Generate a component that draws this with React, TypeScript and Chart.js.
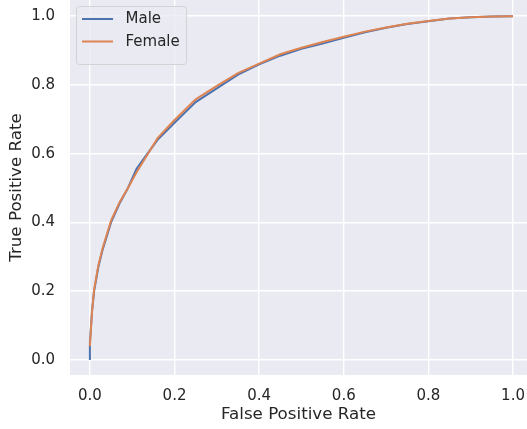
import React, { useEffect, useRef } from "react";
import { Chart, registerables } from "chart.js";

Chart.register(...registerables);

const maleFpr = [0, 0, 0.005, 0.01, 0.02, 0.03, 0.05, 0.07, 0.09, 0.11, 0.13, 0.16, 0.2, 0.25, 0.3, 0.35, 0.4, 0.45, 0.5, 0.55, 0.6, 0.65, 0.7, 0.75, 0.8, 0.85, 0.9, 0.95, 1.0];
const maleTpr = [0, 0.05, 0.14, 0.2, 0.27, 0.32, 0.4, 0.455, 0.5, 0.555, 0.59, 0.64, 0.69, 0.75, 0.79, 0.83, 0.86, 0.885, 0.905, 0.92, 0.937, 0.953, 0.966, 0.977, 0.985, 0.993, 0.997, 0.999, 1.0];
const femaleFpr = [0, 0.005, 0.01, 0.02, 0.03, 0.05, 0.07, 0.09, 0.11, 0.13, 0.16, 0.2, 0.25, 0.3, 0.35, 0.4, 0.45, 0.5, 0.55, 0.6, 0.65, 0.7, 0.75, 0.8, 0.85, 0.9, 0.95, 1.0];
const femaleTpr = [0.04, 0.14, 0.205, 0.275, 0.325, 0.405, 0.458, 0.5, 0.545, 0.585, 0.645, 0.698, 0.758, 0.797, 0.834, 0.862, 0.889, 0.908, 0.925, 0.94, 0.955, 0.967, 0.978, 0.986, 0.993, 0.997, 0.999, 1.0];
const tickValues = [0, 0.2, 0.4, 0.6, 0.8, 1.0];
const seriesNames = ["Male", "Female"];
const seriesColors = ["#4C72B0", "#DD8452"];

const FONT = "'DejaVu Sans', sans-serif";
const TEXT = "#262626";

const bgPlugin = {
  id: "bg",
  beforeDraw(chart: any) {
    const { ctx, chartArea } = chart;
    ctx.save();
    ctx.fillStyle = "#EAEAF2";
    ctx.fillRect(chartArea.left, chartArea.top, chartArea.right - chartArea.left, chartArea.bottom - chartArea.top);
    ctx.restore();
  },
};

const legendPlugin = {
  id: "customLegend",
  afterDraw(chart: any) {
    const { ctx } = chart;
    ctx.save();
    const x = 76.5, y = 6.5, w = 110, h = 58, r = 3;
    ctx.beginPath();
    ctx.moveTo(x + r, y);
    ctx.lineTo(x + w - r, y);
    ctx.arcTo(x + w, y, x + w, y + r, r);
    ctx.lineTo(x + w, y + h - r);
    ctx.arcTo(x + w, y + h, x + w - r, y + h, r);
    ctx.lineTo(x + r, y + h);
    ctx.arcTo(x, y + h, x, y + h - r, r);
    ctx.lineTo(x, y + r);
    ctx.arcTo(x, y, x + r, y, r);
    ctx.closePath();
    ctx.fillStyle = "rgba(234,234,242,0.8)";
    ctx.fill();
    ctx.strokeStyle = "rgba(204,204,204,0.8)";
    ctx.lineWidth = 1;
    ctx.stroke();
    const rows = [19, 41.5];
    seriesNames.forEach((name, i) => {
      ctx.beginPath();
      ctx.strokeStyle = seriesColors[i];
      ctx.lineWidth = 2;
      ctx.moveTo(82, rows[i]);
      ctx.lineTo(113, rows[i]);
      ctx.stroke();
      ctx.fillStyle = TEXT;
      ctx.font = `15px ${FONT}`;
      ctx.textBaseline = "middle";
      ctx.textAlign = "left";
      ctx.fillText(name, 125.5, rows[i] + 0.5);
    });
    ctx.restore();
  },
};

export default function App() {
  const ref = useRef<HTMLCanvasElement>(null);
  useEffect(() => {
    const canvas = ref.current;
    if (!canvas) return;
    const chart = new Chart(canvas, {
      type: "scatter",
      data: {
        datasets: [
          {
            label: seriesNames[0],
            data: maleFpr.map((v, i) => ({ x: v, y: maleTpr[i] })),
            borderColor: seriesColors[0],
            backgroundColor: seriesColors[0],
            showLine: true,
            borderWidth: 2,
            pointRadius: 0,
            tension: 0,
            order: 1,
          },
          {
            label: seriesNames[1],
            data: femaleFpr.map((v, i) => ({ x: v, y: femaleTpr[i] })),
            borderColor: seriesColors[1],
            backgroundColor: seriesColors[1],
            showLine: true,
            borderWidth: 2,
            pointRadius: 0,
            tension: 0,
            order: 0,
          },
        ],
      },
      options: {
        animation: false,
        responsive: false,
        maintainAspectRatio: false,
        layout: { padding: 0 },
        plugins: {
          legend: { display: false },
          tooltip: { enabled: false },
        },
        scales: {
          x: {
            type: "linear",
            min: -0.047,
            max: 1.033,
            afterBuildTicks: (s: any) => {
              s.ticks = tickValues.map((v) => ({ value: v }));
            },
            afterFit: (s: any) => {
              s.height = 54;
              s.paddingLeft = 0;
              s.paddingRight = 0;
              s.paddingTop = 0;
              s.paddingBottom = 0;
            },
            grid: { color: "#ffffff", lineWidth: 1.4, drawTicks: false },
            border: { display: false },
            ticks: {
              padding: 12,
              color: TEXT,
              font: { family: FONT, size: 15 },
              maxRotation: 0,
              callback: (v: any) => Number(v).toFixed(1),
            },
            title: {
              display: true,
              text: "False Positive Rate",
              color: TEXT,
              font: { family: FONT, size: 16.7 },
              padding: { top: 0, bottom: 4 },
            },
          },
          y: {
            type: "linear",
            min: -0.044,
            max: 1.047,
            afterBuildTicks: (s: any) => {
              s.ticks = tickValues.map((v) => ({ value: v }));
            },
            afterFit: (s: any) => {
              s.width = 70;
              s.paddingLeft = 0;
              s.paddingRight = 0;
              s.paddingTop = 0;
              s.paddingBottom = 0;
            },
            grid: { color: "#ffffff", lineWidth: 1.4, drawTicks: false },
            border: { display: false },
            ticks: {
              padding: 15,
              color: TEXT,
              font: { family: FONT, size: 15 },
              callback: (v: any) => Number(v).toFixed(1),
            },
            title: {
              display: true,
              text: "True Positive Rate",
              color: TEXT,
              font: { family: FONT, size: 16.7 },
              padding: { top: 7, bottom: 0 },
            },
          },
        },
      },
      plugins: [bgPlugin, legendPlugin],
    } as any);
    return () => chart.destroy();
  }, []);
  return (
    <div style={{ position: "fixed", left: 0, top: 0, width: 527, height: 429, background: "#ffffff" }}>
      <canvas ref={ref} width={527} height={429} style={{ width: 527, height: 429, display: "block" }} />
    </div>
  );
}
